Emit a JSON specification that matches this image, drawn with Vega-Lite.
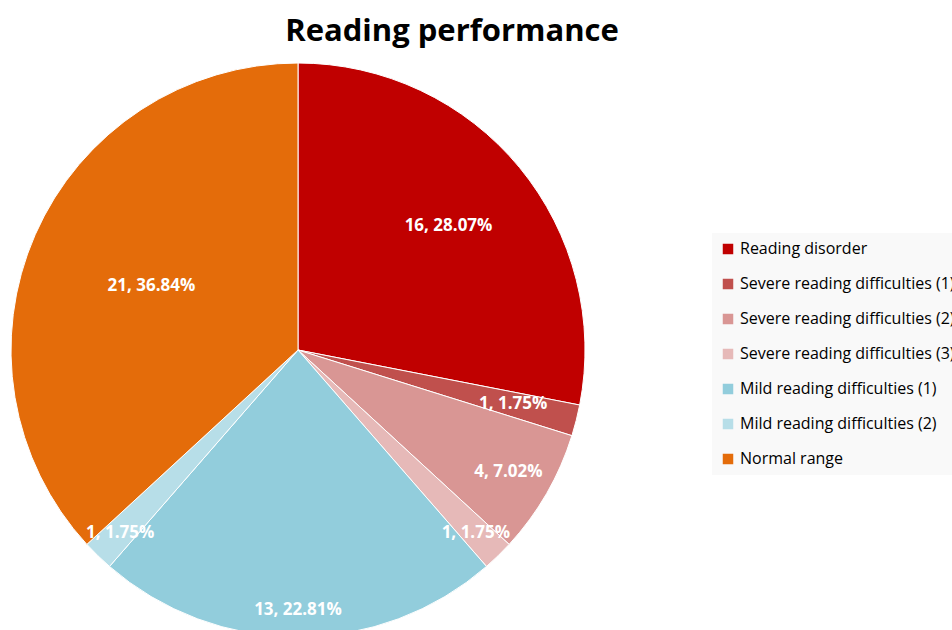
{
  "$schema": "https://vega.github.io/schema/vega-lite/v6.json",
  "width": 596,
  "height": 574,
  "autosize": {"type": "none"},
  "padding": {"left": 0, "top": 63, "right": 356, "bottom": 0},
  "background": "white",
  "title": {
    "text": "Reading performance",
    "fontSize": 31,
    "font": "Open Sans",
    "fontWeight": "bold",
    "color": "#000000",
    "anchor": "middle",
    "dx": 154,
    "offset": 13
  },
  "data": {
    "values": [
      {"category": "Reading disorder", "count": 16, "label": "16, 28.07%", "rank": 1},
      {"category": "Severe reading difficulties (1)", "count": 1, "label": "1, 1.75%", "rank": 2},
      {"category": "Severe reading difficulties (2)", "count": 4, "label": "4, 7.02%", "rank": 3},
      {"category": "Severe reading difficulties (3)", "count": 1, "label": "1, 1.75%", "rank": 4},
      {"category": "Mild reading difficulties (1)", "count": 13, "label": "13, 22.81%", "rank": 5},
      {"category": "Mild reading difficulties (2)", "count": 1, "label": "1, 1.75%", "rank": 6},
      {"category": "Normal range", "count": 21, "label": "21, 36.84%", "rank": 7}
    ]
  },
  "encoding": {
    "theta": {"field": "count", "type": "quantitative", "stack": true},
    "order": {"field": "rank", "type": "quantitative"},
    "color": {
      "field": "category",
      "type": "nominal",
      "scale": {
        "domain": ["Reading disorder", "Severe reading difficulties (1)", "Severe reading difficulties (2)", "Severe reading difficulties (3)", "Mild reading difficulties (1)", "Mild reading difficulties (2)", "Normal range"],
        "range": ["#C00000", "#C0504D", "#D99694", "#E6B9B8", "#92CDDC", "#B7DEE8", "#E46C0A"]
      },
      "legend": {
        "title": null,
        "orient": "none",
        "legendX": 712,
        "legendY": 170,
        "fillColor": "#F9F9F9",
        "padding": 8,
        "rowPadding": 19,
        "symbolType": "square",
        "symbolSize": 110,
        "symbolStrokeWidth": 0,
        "symbolOpacity": 1,
        "labelFontSize": 16,
        "labelFont": "Open Sans",
        "labelColor": "#000000",
        "labelLimit": 400,
        "labelOffset": 4
      }
    }
  },
  "layer": [
    {
      "mark": {"type": "arc", "radius": 287, "stroke": "white", "strokeWidth": 1}
    },
    {
      "mark": {
        "type": "text",
        "radius": {"expr": "[0, 195, 222, 243, 255, 260, 255, 160][datum.rank]"},
        "fontSize": 17,
        "fontWeight": "bold",
        "font": "Open Sans",
        "color": "white"
      },
      "encoding": {
        "text": {"field": "label", "type": "nominal"},
        "color": {"value": "white"}
      }
    }
  ],
  "config": {"view": {"stroke": null}}
}
